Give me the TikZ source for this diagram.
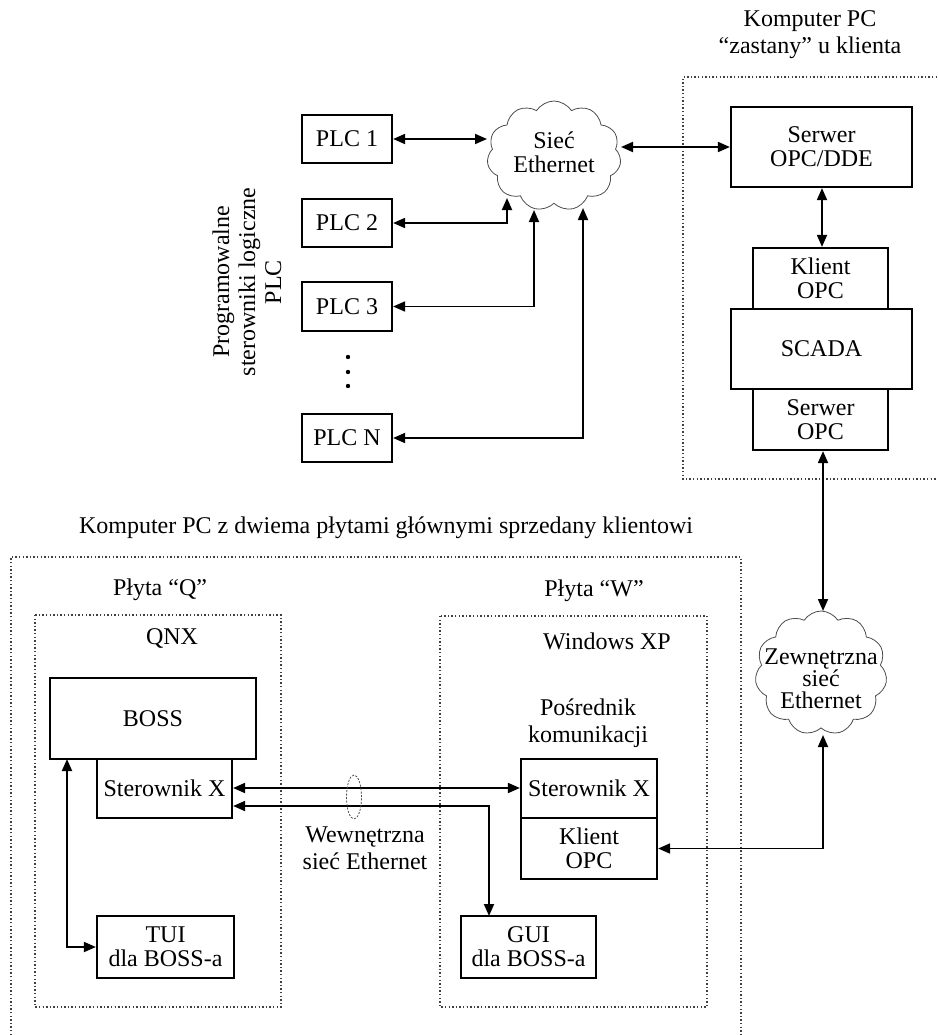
\documentclass[tikz,border=0pt]{standalone}
\usepackage{fontspec}
\setmainfont{Liberation Serif}
\usetikzlibrary{arrows.meta,shapes.symbols}
\begin{document}
\begin{tikzpicture}[x=1pt,y=-1pt,
  >={Triangle[length=12pt,width=10pt]},
  every node/.style={font=\fontsize{24}{24}\selectfont,align=center,inner sep=0pt},
  box/.style={draw,line width=2.2pt,rectangle},
  link/.style={line width=1.8pt,<->},
  zone/.style={line width=1.1pt,dash pattern=on 1.4pt off 2.2pt,draw=black!75},
  net/.style={draw=black!70,line width=0.8pt,cloud,cloud puffs=11,cloud puff arc=115}
]
\useasboundingbox (0,0) rectangle (937,1035);

% ---------- areas ----------
\draw[zone] (937,77) -- (683,77) -- (683,479) -- (937,479);
\draw[zone] (11,1035) -- (11,557) -- (741,557) -- (741,1035);
\draw[zone] (35,615) rectangle (281,1007);
\draw[zone] (440,616) rectangle (707,1007);

% ---------- titles ----------
\node[font=\fontsize{24}{27}\selectfont] (pcTitle) at (810,35) {Komputer PC\\“zastany” u klienta};
\node (mainTitle) at (386,528) {Komputer PC z dwiema płytami głównymi sprzedany klientowi};
\node[rotate=90,font=\fontsize{24}{26}\selectfont] (plcTitle) at (247,282) {Programowalne\\sterowniki logiczne\\PLC};
\node (plytaQ) at (160,590) {Płyta “Q”};
\node (qnx) at (172,638) {QNX};
\node (plytaW) at (594,591) {Płyta “W”};
\node (winxp) at (607,641) {Windows XP};
\node[font=\fontsize{24}{27}\selectfont] (posrednik) at (588,723) {Pośrednik\\komunikacji};
\node[font=\fontsize{24}{27}\selectfont] (wewn) at (365,848) {Wewnętrzna\\sieć Ethernet};

% ---------- PLC controllers ----------
\node[box,minimum width=90pt,minimum height=48pt] (plc1) at (347,139) {PLC 1};
\node[box,minimum width=90pt,minimum height=48pt] (plc2) at (347,223) {PLC 2};
\node[box,minimum width=90pt,minimum height=49pt] (plc3) at (347,306.5) {PLC 3};
\node[box,minimum width=90pt,minimum height=48pt] (plcN) at (347,438) {PLC N};
\foreach \y in {357,372,386} \fill (348,\y) circle (2.2pt);

% ---------- Ethernet network ----------
\node[net,minimum width=134pt,minimum height=110pt] (eth) at (554,156) {};
\node (ethText) at (554,152) {Sieć\\Ethernet};

% ---------- existing client PC ----------
\node[box,minimum width=181pt,minimum height=80pt] (srvdde) at (821.5,147) {Serwer\\OPC/DDE};
\node[box,minimum width=135pt,minimum height=61pt] (klient) at (820.5,278.5) {Klient\\OPC};
\node[box,minimum width=181pt,minimum height=80pt] (scada) at (821.5,349) {SCADA};
\node[box,minimum width=135pt,minimum height=61pt] (srvopc) at (820.5,419.5) {Serwer\\OPC};

% ---------- external network ----------
\node[net,minimum width=132pt,minimum height=124pt] (ext) at (821,673) {};
\node[font=\fontsize{24}{22}\selectfont] (extText) at (821,679) {Zewnętrzna\\sieć\\Ethernet};

% ---------- board Q ----------
\node[box,minimum width=206pt,minimum height=81pt] (boss) at (153,718.5) {BOSS};
\node[box,minimum width=135pt,minimum height=59pt] (sterQ) at (164.5,788.5) {Sterownik X};
\node[box,minimum width=137pt,minimum height=62pt] (tui) at (165.5,947) {TUI\\dla BOSS-a};

% ---------- board W ----------
\node[box,minimum width=136pt,minimum height=59pt] (sterW) at (589,788.5) {Sterownik X};
\node[box,minimum width=136pt,minimum height=61pt] (klientW) at (589,848.5) {Klient\\OPC};
\node[box,minimum width=135pt,minimum height=62pt] (gui) at (528.5,947) {GUI\\dla BOSS-a};

% ---------- connection points on clouds and boxes ----------
\coordinate (ethW) at (487,139);
\coordinate (ethA) at (507,198);
\coordinate (ethB) at (534,210);
\coordinate (ethC) at (583,208);
\coordinate (ethE) at (621,147);
\coordinate (extN) at (823,611);
\coordinate (extS) at (823,735);
\coordinate (bossS) at (67,759);
\coordinate (guiN) at (489,916);

% ---------- connectors ----------
\draw[link] (plc1.east) -- (ethW);
\draw[link] (plc2.east) -| (ethA);
\draw[link] (plc3.east) -| (ethB);
\draw[link] (plcN.east) -| (ethC);
\draw[link] (ethE) -- (srvdde.west);
\draw[link] (srvdde.south -| 822,0) -- (klient.north -| 822,0);
\draw[link] (srvopc.south -| extN) -- (extN);
\draw[link] (extS) |- (klientW.east);
\draw[link] (bossS) |- (tui.west);
\draw[link] (sterQ.east |- 0,788) -- (sterW.west |- 0,788);
\draw[link] (sterQ.east |- 0,806) -| (guiN);

% bundle mark on the internal link
\draw[black!70,line width=0.8pt,dash pattern=on 2pt off 1.5pt] (354,797) ellipse [x radius=7.5pt,y radius=22pt];
\end{tikzpicture}
\end{document}
